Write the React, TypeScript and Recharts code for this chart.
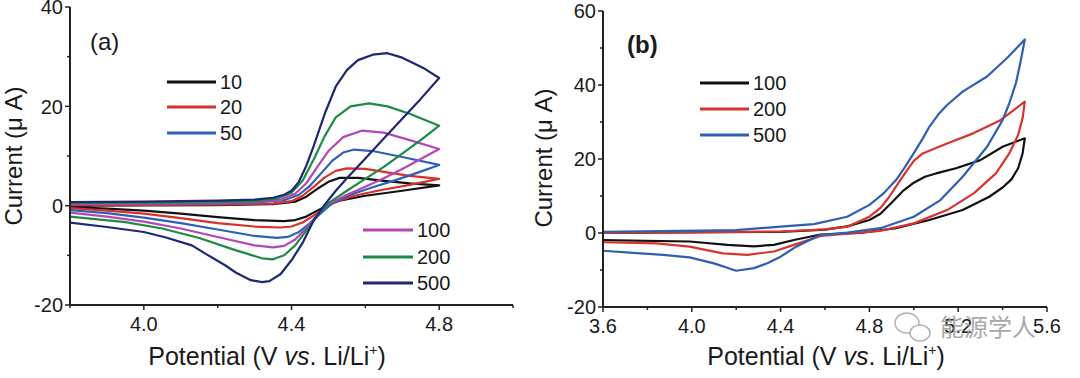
import React from "react";
import { LineChart, Line, XAxis, YAxis, Legend } from "recharts";

// ---- panel (a): scan rate series, [potential V, current µA], forward then reverse scan
const a10 = [
  [3.8, 0], [4.2, 0.1], [4.35, 0.3], [4.41, 0.8], [4.44, 1.8], [4.47, 3.4], [4.5, 4.8], [4.53, 5.6],
  [4.58, 5.6], [4.65, 5.0], [4.72, 4.5], [4.8, 4.1],
  [4.7, 3.0], [4.6, 2.0], [4.53, 1.0], [4.5, 0.2], [4.47, -1.0], [4.44, -2.2], [4.41, -2.9], [4.38, -3.1],
  [4.3, -2.9], [4.2, -2.3], [4.1, -1.6], [4.0, -1.0], [3.9, -0.6], [3.8, -0.3],
];
const a20 = [
  [3.8, 0.1], [4.2, 0.2], [4.35, 0.4], [4.4, 0.9], [4.43, 2.0], [4.46, 3.8], [4.49, 5.7], [4.52, 7.0],
  [4.55, 7.5], [4.6, 7.4], [4.65, 6.8], [4.72, 6.0], [4.8, 5.4],
  [4.72, 4.2], [4.64, 3.1], [4.57, 2.0], [4.52, 0.8], [4.49, -0.5], [4.46, -2.0], [4.43, -3.4], [4.4, -4.2],
  [4.37, -4.4], [4.3, -4.2], [4.2, -3.5], [4.1, -2.5], [4.0, -1.6], [3.9, -1.0], [3.8, -0.5],
];
const a50 = [
  [3.8, 0.3], [4.2, 0.4], [4.3, 0.6], [4.38, 1.1], [4.42, 2.2], [4.45, 4.0], [4.48, 6.5], [4.51, 9.0],
  [4.54, 10.7], [4.57, 11.3], [4.62, 11.0], [4.7, 9.8], [4.8, 8.2],
  [4.74, 6.6], [4.68, 5.1], [4.62, 3.7], [4.56, 2.2], [4.51, 0.5], [4.48, -1.5], [4.45, -3.5], [4.42, -5.3],
  [4.39, -6.3], [4.36, -6.5], [4.3, -6.1], [4.2, -4.8], [4.1, -3.5], [4.0, -2.4], [3.9, -1.5], [3.8, -0.9],
];
const a100 = [
  [3.8, 0.3], [4.0, 0.4], [4.2, 0.5], [4.3, 0.7], [4.37, 1.2], [4.41, 2.4], [4.44, 4.5], [4.47, 7.8],
  [4.5, 11.0], [4.54, 13.8], [4.59, 15.1], [4.65, 14.7], [4.72, 13.2], [4.8, 11.4],
  [4.75, 9.4], [4.7, 7.4], [4.65, 5.5], [4.6, 3.8], [4.55, 2.2], [4.5, 0.3], [4.47, -1.8], [4.44, -4.5],
  [4.41, -6.8], [4.38, -8.1], [4.35, -8.4], [4.3, -8.0], [4.2, -6.3], [4.1, -4.6], [4.0, -3.2], [3.9, -2.2], [3.8, -1.4],
];
const a200 = [
  [3.8, 0.5], [4.0, 0.6], [4.2, 0.7], [4.3, 0.9], [4.36, 1.4], [4.4, 2.6], [4.43, 5.0], [4.46, 9.3],
  [4.49, 14.0], [4.52, 17.8], [4.56, 20.0], [4.61, 20.6], [4.66, 20.0], [4.72, 18.5], [4.8, 16.1],
  [4.75, 13.2], [4.7, 10.5], [4.65, 7.8], [4.6, 5.4], [4.55, 3.0], [4.5, 0.5], [4.47, -2.0], [4.44, -5.0],
  [4.41, -8.0], [4.38, -10.0], [4.35, -10.8], [4.32, -10.6], [4.25, -9.0], [4.15, -6.5], [4.05, -4.6],
  [3.95, -3.3], [3.8, -2.2],
];
const a500 = [
  [3.8, 0.7], [4.0, 0.8], [4.2, 1.0], [4.3, 1.2], [4.35, 1.6], [4.38, 2.2], [4.4, 3.0], [4.42, 4.8],
  [4.44, 8.0], [4.46, 12.0], [4.49, 18.5], [4.52, 24.0], [4.55, 27.3], [4.58, 29.3], [4.62, 30.4], [4.66, 30.7],
  [4.7, 29.8], [4.76, 27.6], [4.8, 25.7],
  [4.75, 21.5], [4.7, 17.5], [4.65, 13.5], [4.6, 9.5], [4.55, 5.5], [4.52, 3.0], [4.49, 0.2], [4.46, -3.0],
  [4.43, -7.5], [4.4, -11.0], [4.37, -13.8], [4.34, -15.2], [4.32, -15.4], [4.29, -15.0], [4.25, -13.5],
  [4.22, -12.0], [4.17, -9.8], [4.13, -8.0], [4.06, -6.4], [4.0, -5.3], [3.9, -4.3], [3.8, -3.4],
];

// ---- panel (b)
const b100 = [
  [3.6, 0], [4.4, 0.3], [4.6, 0.9], [4.7, 1.8], [4.8, 3.5], [4.85, 5.2], [4.9, 8.2], [4.95, 11.3],
  [5.0, 13.6], [5.05, 15.2], [5.1, 16.1], [5.19, 17.5], [5.3, 19.7], [5.4, 23.3], [5.5, 25.6],
  [5.49, 21.5], [5.47, 17.5], [5.44, 14.5], [5.4, 12.3], [5.34, 9.8], [5.22, 6.2], [5.07, 3.5], [4.92, 1.3],
  [4.76, 0], [4.58, -0.4], [4.46, -1.9], [4.37, -3.2], [4.28, -3.6], [4.16, -3.2], [3.99, -2.3], [3.6, -1.9],
];
const b200 = [
  [3.6, 0], [4.4, 0.4], [4.6, 1.0], [4.7, 1.7], [4.8, 4.4], [4.85, 6.8], [4.89, 9.8], [4.93, 13.5],
  [4.97, 17.0], [5.0, 19.5], [5.04, 21.5], [5.1, 23.0], [5.15, 24.2], [5.27, 27.0], [5.39, 30.5], [5.5, 35.5],
  [5.49, 31.0], [5.47, 26.5], [5.43, 21.5], [5.37, 16.1], [5.27, 10.7], [5.15, 6.2], [5.0, 2.6], [4.85, 0.6],
  [4.7, -0.2], [4.58, -0.8], [4.46, -3.2], [4.37, -5.0], [4.25, -5.9], [4.14, -5.5], [3.99, -3.7],
  [3.84, -2.8], [3.6, -2.5],
];
const b500 = [
  [3.6, 0.3], [4.2, 0.8], [4.4, 1.7], [4.55, 2.4], [4.7, 4.4], [4.8, 7.6], [4.86, 10.5], [4.92, 14.3],
  [4.96, 17.8], [5.0, 21.6], [5.04, 25.5], [5.07, 28.7], [5.11, 32.0], [5.15, 34.6], [5.22, 38.2],
  [5.33, 42.3], [5.42, 47.3], [5.5, 52.3],
  [5.48, 46.0], [5.46, 40.5], [5.43, 35.0], [5.4, 30.5], [5.33, 23.3], [5.22, 15.2], [5.12, 8.9], [5.0, 4.4],
  [4.85, 1.3], [4.7, 0.1], [4.58, -0.5], [4.47, -3.7], [4.4, -6.4], [4.34, -8.2], [4.28, -9.5], [4.2, -10.2],
  [4.1, -8.2], [3.99, -6.6], [3.87, -5.9], [3.72, -5.3], [3.6, -4.8],
];

// ---- axes
const aXTicks = [3.8, 4.0, 4.2, 4.4, 4.6, 4.8, 5.0];
const aXLabels = [4.0, 4.4, 4.8];
const aYTicks = [-20, -10, 0, 10, 20, 30, 40];
const aYLabels = [-20, 0, 20, 40];
const bXTicks = [3.6, 3.8, 4.0, 4.2, 4.4, 4.6, 4.8, 5.0, 5.2, 5.4, 5.6];
const bXLabels = [3.6, 4.0, 4.4, 4.8, 5.2, 5.6];
const bYTicks = [-20, -10, 0, 10, 20, 30, 40, 50, 60];
const bYLabels = [-20, 0, 20, 40, 60];

const aSeries = [
  { name: "10", pts: a10, color: "#111111" },
  { name: "20", pts: a20, color: "#d8302a" },
  { name: "50", pts: a50, color: "#2f5fb6" },
  { name: "100", pts: a100, color: "#b447b6" },
  { name: "200", pts: a200, color: "#1d8a45" },
  { name: "500", pts: a500, color: "#1e2776" },
];
const bSeries = [
  { name: "100", pts: b100, color: "#111111" },
  { name: "200", pts: b200, color: "#d8342e" },
  { name: "500", pts: b500, color: "#2e5fb2" },
];

const FONT = "'Liberation Sans', Arial, sans-serif";
const INK = "#1a1a1a";
const AXIS = "#222222";

const toXY = (pts: number[][]) => pts.map(([x, y]) => ({ x, y }));

function XTick(props: any) {
  const { x, y, payload, labels } = props;
  const major = labels.some((v: number) => Math.abs(v - payload.value) < 1e-6);
  return (
    <g>
      <line x1={x} x2={x} y1={y} y2={y + (major ? 5 : 3)} stroke={AXIS} strokeWidth={1.5} />
      {major && (
        <text x={x} y={y + 12} dy="0.71em" textAnchor="middle" fontSize={20} fontFamily={FONT} fill={INK}>
          {payload.value.toFixed(1)}
        </text>
      )}
    </g>
  );
}

function YTick(props: any) {
  const { x, y, payload, labels } = props;
  const major = labels.includes(payload.value);
  return (
    <g>
      <line x1={x - (major ? 5 : 3)} x2={x} y1={y} y2={y} stroke={AXIS} strokeWidth={1.5} />
      {major && (
        <text x={x - 7} y={y} dy="0.36em" textAnchor="end" fontSize={20} fontFamily={FONT} fill={INK}>
          {payload.value}
        </text>
      )}
    </g>
  );
}

type Slot = { lx: number; tx: number; y: number };

function makeLegend(slots: Record<string, Slot>) {
  return (props: any) => {
    const items = props.payload || [];
    return (
      <svg width={540} height={378} style={{ position: "absolute", left: 0, top: 0 }}>
        {items.map((it: any) => {
          const s = slots[String(it.value)];
          if (!s) return null;
          return (
            <g key={it.value}>
              <line x1={s.lx} x2={s.tx - 4} y1={s.y} y2={s.y} stroke={it.color} strokeWidth={3} />
              <text x={s.tx} y={s.y} dy="0.36em" fontSize={20} fontFamily={FONT} fill={INK}>
                {it.value}
              </text>
            </g>
          );
        })}
      </svg>
    );
  };
}

const aLegendSlots: Record<string, Slot> = {
  "10": { lx: 167, tx: 220, y: 82 },
  "20": { lx: 167, tx: 220, y: 107 },
  "50": { lx: 167, tx: 220, y: 133 },
  "100": { lx: 363, tx: 417, y: 230 },
  "200": { lx: 363, tx: 417, y: 257 },
  "500": { lx: 363, tx: 417, y: 283 },
};
const bLegendSlots: Record<string, Slot> = {
  "100": { lx: 160, tx: 213, y: 83 },
  "200": { lx: 160, tx: 213, y: 109 },
  "500": { lx: 160, tx: 213, y: 135 },
};

function Panel(props: {
  series: { name: string; pts: number[][]; color: string }[];
  xDomain: [number, number];
  yDomain: [number, number];
  xTicks: number[];
  xLabels: number[];
  yTicks: number[];
  yLabels: number[];
  margin: { top: number; right: number; left: number; bottom: number };
  yWidth: number;
  slots: Record<string, Slot>;
}) {
  const { series, xDomain, yDomain, xTicks, xLabels, yTicks, yLabels, margin, yWidth, slots } = props;
  const axisLine = { stroke: AXIS, strokeWidth: 2 };
  return (
    <LineChart width={540} height={378} margin={margin}>
      <XAxis
        type="number"
        dataKey="x"
        domain={xDomain}
        allowDataOverflow
        ticks={xTicks}
        interval={0}
        height={40}
        tickSize={0}
        tickMargin={0}
        tickLine={false}
        axisLine={axisLine}
        tick={(p: any) => <XTick {...p} labels={xLabels} />}
      />
      <XAxis xAxisId="top" orientation="top" type="number" domain={xDomain} height={0} tick={false} tickLine={false} axisLine={axisLine} />
      <YAxis
        type="number"
        domain={yDomain}
        allowDataOverflow
        ticks={yTicks}
        interval={0}
        width={yWidth}
        tickSize={0}
        tickMargin={0}
        tickLine={false}
        axisLine={axisLine}
        tick={(p: any) => <YTick {...p} labels={yLabels} />}
      />
      <YAxis yAxisId="right" orientation="right" type="number" domain={yDomain} width={0} tick={false} tickLine={false} axisLine={axisLine} />
      <Legend
        layout="horizontal"
        verticalAlign="middle"
        align="center"
        wrapperStyle={{ left: 0, top: 0, width: 540, height: 378 }}
        content={makeLegend(slots)}
      />
      {series.map((s) => (
        <Line
          key={s.name}
          name={s.name}
          data={toXY(s.pts)}
          dataKey="y"
          type="linear"
          stroke={s.color}
          strokeWidth={2.2}
          strokeLinejoin="round"
          dot={false}
          isAnimationActive={false}
        />
      ))}
    </LineChart>
  );
}

function XTitle({ cx }: { cx: number }) {
  return (
    <text x={cx} y={365} textAnchor="middle" fontSize={25} fontFamily={FONT} fill={INK}>
      Potential (V <tspan fontStyle="italic">vs</tspan>. Li/Li
      <tspan dy={-10} fontSize={14}>+</tspan>
      <tspan dy={10}>)</tspan>
    </text>
  );
}

export default function App() {
  return (
    <div style={{ position: "fixed", left: 0, top: 0, width: 1080, height: 378, background: "#fff", overflow: "hidden" }}>
      <div style={{ position: "absolute", left: 0, top: 0 }}>
        <Panel
          series={aSeries}
          xDomain={[3.8, 5.0]}
          yDomain={[-20, 40]}
          xTicks={aXTicks}
          xLabels={aXLabels}
          yTicks={aYTicks}
          yLabels={aYLabels}
          margin={{ top: 7, right: 27, left: 0, bottom: 33 }}
          yWidth={70}
          slots={aLegendSlots}
        />
      </div>
      <div style={{ position: "absolute", left: 540, top: 0 }}>
        <Panel
          series={bSeries}
          xDomain={[3.6, 5.6]}
          yDomain={[-20, 60]}
          xTicks={bXTicks}
          xLabels={bXLabels}
          yTicks={bYTicks}
          yLabels={bYLabels}
          margin={{ top: 11, right: 33, left: 0, bottom: 31 }}
          yWidth={63}
          slots={bLegendSlots}
        />
      </div>
      <svg width={1080} height={378} style={{ position: "absolute", left: 0, top: 0, pointerEvents: "none" }}>
        <text x={90} y={50} fontSize={24} fontFamily={FONT} fill={INK}>(a)</text>
        <text x={627} y={53} fontSize={24} fontWeight="bold" fontFamily={FONT} fill={INK}>(b)</text>
        <text transform="translate(13,156) rotate(-90)" textAnchor="middle" dy="0.36em" fontSize={24} fontFamily={FONT} fill={INK}>
          Current (μ A)
        </text>
        <text transform="translate(543,158) rotate(-90)" textAnchor="middle" dy="0.36em" fontSize={24} fontFamily={FONT} fill={INK}>
          Current (μ A)
        </text>
        <XTitle cx={267} />
        <XTitle cx={826} />
        <g opacity={0.75} stroke="#9a9a9a" fill="none" strokeWidth={1.5}>
          <ellipse cx={907} cy={323} rx={12} ry={10} />
          <ellipse cx={920} cy={333} rx={10} ry={8} fill="#fff" />
        </g>
        <text x={940} y={336} fontSize={24} fontFamily="'Noto Sans CJK SC', sans-serif" fill="#9a9a9a" opacity={0.85}>
          能源学人
        </text>
      </svg>
    </div>
  );
}
